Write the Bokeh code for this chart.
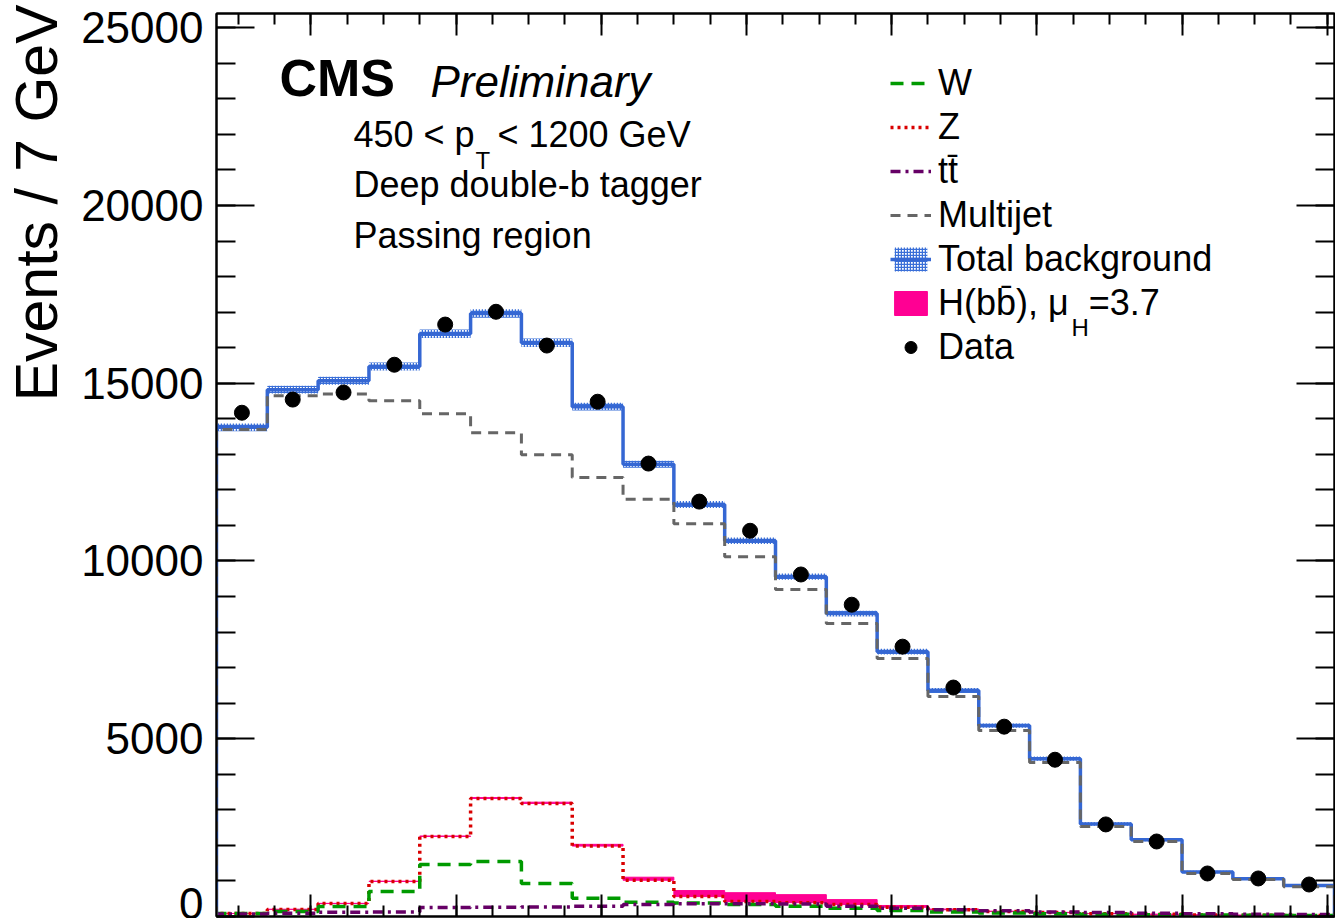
import numpy as np
from bokeh.plotting import figure
from bokeh.models import (Range1d, LinearAxis, SingleIntervalTicker, Label,
                          Legend, LegendItem, Title, CustomJSTickFormatter)
from bokeh.embed import file_html
from bokeh.resources import INLINE

# ---------------- data ----------------
bin_low = 47.0          # GeV
bin_width = 7.0         # GeV
n_bins = 22

data_counts = [14170, 14540, 14740, 15520, 16650, 17010, 16060, 14480, 12740, 11670, 10850,
               9620, 8770, 7590, 6440, 5340, 4410, 2590, 2110, 1210, 1070, 900]
total_bkg = [13760, 14820, 15070, 15470, 16390, 16960, 16140, 14340, 12720, 11590, 10570,
             9560, 8520, 7450, 6360, 5370, 4440, 2600, 2160, 1250, 1060, 870]
total_unc = [110, 110, 110, 110, 120, 120, 120, 110, 100, 100, 90,
             90, 80, 80, 70, 60, 60, 50, 45, 35, 30, 30]
multijet = [13700, 14650, 14700, 14510, 14140, 13610, 12990, 12350, 11740, 11050, 10120,
            9200, 8240, 7260, 6190, 5230, 4330, 2530, 2110, 1210, 1040, 840]
w_bkg = [84, 140, 280, 700, 1460, 1550, 930, 510, 400, 380, 340,
         290, 230, 170, 130, 100, 80, 60, 50, 40, 35, 30]
z_bkg = [84, 200, 365, 985, 2250, 3320, 3180, 1980, 1020, 560, 420,
         390, 335, 260, 190, 140, 110, 80, 60, 45, 35, 30]
ttbar = [70, 90, 120, 130, 250, 260, 270, 290, 340, 360, 360,
         350, 290, 230, 190, 160, 130, 110, 90, 75, 65, 55]
higgs = [2, 3, 5, 8, 15, 25, 35, 50, 85, 170, 250,
         225, 140, 50, 20, 10, 6, 4, 3, 2, 2, 1]

y_ticks_interval = 5000
x_ticks_interval = 20

# ---------------- derived arrays ----------------
edges = bin_low + bin_width * np.arange(n_bins + 1)
centers = 0.5 * (edges[:-1] + edges[1:])


def hist_xy(vals):
    xs = np.repeat(edges, 2)
    ys = np.concatenate([[0.0], np.repeat(np.asarray(vals, float), 2), [0.0]])
    return xs, ys


# ---------------- layout helpers ----------------
X_MIN, X_MAX = 47.0, 201.0
Y_MIN, Y_MAX = 0.0, 25400.0
FR_L, FR_R, FR_T, FR_B = 216, 1334, 13, 916   # page pixel frame


def px2x(px):
    return X_MIN + (px - FR_L) * (X_MAX - X_MIN) / (FR_R - FR_L)


def py2y(py):
    return Y_MIN + (FR_B - py) * (Y_MAX - Y_MIN) / (FR_B - FR_T)


FONT = "Liberation Sans"

p = figure(width=1335, height=918, x_range=Range1d(X_MIN, X_MAX),
           y_range=Range1d(Y_MIN, Y_MAX), output_backend="svg",
           toolbar_location=None, x_axis_location=None, y_axis_location=None,
           min_border_left=FR_L, min_border_right=1, min_border_top=FR_T,
           min_border_bottom=2)
p.xgrid.visible = False
p.ygrid.visible = False
p.outline_line_color = "black"
p.outline_line_width = 2
p.background_fill_color = "white"
p.border_fill_color = "white"

empty_fmt = CustomJSTickFormatter(code="return '';")


def style_axis(ax, major_in, minor_in, labels):
    ax.axis_line_width = 2
    ax.axis_line_color = "black"
    ax.major_tick_line_width = 2
    ax.minor_tick_line_width = 2
    ax.major_tick_out = 0
    ax.minor_tick_out = 0
    ax.major_tick_in = major_in
    ax.minor_tick_in = minor_in
    if labels:
        ax.major_label_text_font = FONT
        ax.major_label_text_font_size = "44px"
        ax.major_label_text_color = "black"
        ax.major_label_standoff = 13
    else:
        ax.formatter = empty_fmt
        ax.major_label_text_font_size = "1px"
        ax.major_label_standoff = 0


left = LinearAxis(ticker=SingleIntervalTicker(interval=y_ticks_interval, num_minor_ticks=5))
style_axis(left, 38, 19, True)
right = LinearAxis(ticker=SingleIntervalTicker(interval=y_ticks_interval, num_minor_ticks=5))
style_axis(right, 38, 19, False)
top = LinearAxis(ticker=SingleIntervalTicker(interval=x_ticks_interval, num_minor_ticks=4))
style_axis(top, 22, 11, False)
bottom = LinearAxis(ticker=SingleIntervalTicker(interval=x_ticks_interval, num_minor_ticks=4))
style_axis(bottom, 22, 11, False)
p.add_layout(left, "left")
p.add_layout(right, "right")
p.add_layout(top, "above")
p.add_layout(bottom, "below")

# spacer between tick labels and the y title, then the y title itself
spacer = Title(text=" ", text_font=FONT, text_font_size="7px", standoff=0)
p.add_layout(spacer, "left")
ytitle = Title(text="Events / 7 GeV", align="right", text_font=FONT,
               text_font_size="59px", text_font_style="normal",
               text_color="black", standoff=0, offset=-9)
p.add_layout(ytitle, "left")

# ---------------- glyphs ----------------
z_arr = np.asarray(z_bkg, float)
h_arr = np.asarray(higgs, float)
r_h = p.quad(left=edges[:-1], right=edges[1:], bottom=z_arr, top=z_arr + h_arr,
             fill_color="#ff0093", line_color="#ff0093", line_width=1)

xs, ys = hist_xy(z_bkg)
r_z = p.line(xs, ys, line_color="#d90000", line_width=3.5, line_dash="3 4")
xs, ys = hist_xy(w_bkg)
r_w = p.line(xs, ys, line_color="#009a00", line_width=3.5, line_dash="13 8")
xs, ys = hist_xy(ttbar)
r_tt = p.line(xs, ys, line_color="#660066", line_width=3.5, line_dash="10 5 3 5")

tot = np.asarray(total_bkg, float)
unc = np.asarray(total_unc, float)
r_band = p.quad(left=edges[:-1], right=edges[1:], bottom=tot - unc, top=tot + unc,
                fill_alpha=0, line_alpha=0, hatch_pattern="cross",
                hatch_color="#3a6fd8", hatch_scale=3, hatch_weight=1.5)
xs, ys = hist_xy(total_bkg)
r_tot = p.line(xs, ys, line_color="#3567d3", line_width=3.5)
xs, ys = hist_xy(multijet)
r_qcd = p.line(xs, ys, line_color="#666666", line_width=3, line_dash="10 7")

dat = np.asarray(data_counts, float)
err = np.sqrt(dat)
p.segment(x0=centers, y0=dat - err, x1=centers, y1=dat + err, line_color="black",
          line_width=2)
r_data = p.scatter(centers, dat, size=15, color="black")

# ---------------- legend ----------------
legend = Legend(items=[
    LegendItem(label="W", renderers=[r_w]),
    LegendItem(label="Z", renderers=[r_z]),
    LegendItem(label="t\u0074\u0304", renderers=[r_tt]),
    LegendItem(label="Multijet", renderers=[r_qcd]),
    LegendItem(label="Total background", renderers=[r_band, r_tot]),
    LegendItem(label="H(bb\u0304), \u03bc  =3.7", renderers=[r_h]),
    LegendItem(label="Data", renderers=[r_data]),
], location=(674, 548))
legend.label_text_font = FONT
legend.label_text_font_size = "36px"
legend.label_text_color = "black"
legend.glyph_width = 41
legend.glyph_height = 30
legend.label_height = 40
legend.label_standoff = 7
legend.spacing = 2
legend.padding = 0
legend.margin = 0
legend.border_line_alpha = 0
legend.background_fill_alpha = 0
p.add_layout(legend)

# ---------------- texts ----------------
BASELINE_FIX = 0.35   # empirical shift (in em) of Bokeh's alphabetic baseline


def add_text(px, py, text, size_px, style="normal"):
    py_fixed = py - BASELINE_FIX * size_px
    p.add_layout(Label(x=px2x(px), y=py2y(py_fixed), text=text, text_font=FONT,
                       text_font_size=f"{size_px}px", text_font_style=style,
                       text_color="black", text_baseline="alphabetic",
                       text_align="left"))


add_text(279, 96, "CMS", 52, style="bold")
add_text(430, 96, "Preliminary", 44, style="italic")
add_text(353, 147, "450 < p", 36)
add_text(475, 168, "T", 24)
add_text(497, 147, "< 1200 GeV", 36)
add_text(353, 197, "Deep double-b tagger", 36)
add_text(353, 248, "Passing region", 36)
add_text(1071, 335, "H", 24)

open("out.html", "w").write(file_html(p, INLINE))
